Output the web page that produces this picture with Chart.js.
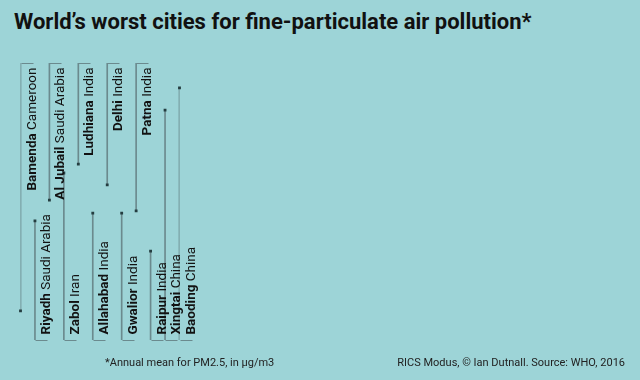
<!DOCTYPE html>
<html>
<head>
<meta charset="utf-8">
<script src="https://cdn.jsdelivr.net/npm/chart.js"></script>
<style>
  body { margin: 0; background: #9dd4d7; width: 640px; height: 380px; overflow: hidden; position: relative; }
  #title { position: absolute; left: 14px; top: 9px; font: bold 22px "Liberation Sans Narrow", "Roboto", sans-serif; color: #111; white-space: nowrap; }
  .note { position: absolute; top: 356px; font: 11px "Roboto", sans-serif; color: #222; white-space: nowrap; }
  #myChart { position: absolute; left: 0; top: 0; }
</style>
</head>
<body>
<div id="title">World’s worst cities for fine-particulate air pollution*</div>
<canvas id="myChart" width="640" height="380"></canvas>
<div class="note" style="left:105px">*Annual mean for PM2.5, in µg/m3</div>
<div class="note" style="right:15px">RICS Modus, © Ian Dutnall. Source: WHO, 2016</div>
<script>
let cities = ['Bamenda', 'Riyadh', 'Al Jubail', 'Zabol', 'Ludhiana', 'Allahabad', 'Delhi', 'Gwalior', 'Patna', 'Raipur', 'Xingtai', 'Baoding'];
let countries = ['Cameroon', 'Saudi Arabia', 'Saudi Arabia', 'Iran', 'India', 'India', 'India', 'India', 'India', 'India', 'China', 'China'];
// height of each dot, 0 = bottom of the stems, 100 = top
let dot_levels = [10.5, 43, 50.5, 60.3, 63.5, 45.8, 56, 45.8, 46.6, 32.1, 83, 91];
// these cities have their label hanging from the top, the rest sit at the bottom
let top_labelled = ['Bamenda', 'Al Jubail', 'Ludhiana', 'Delhi', 'Patna'];
let axis_min = 0;
let axis_max = 100;

let stem_colour = '#6b8a8e';
let dot_colour = '#243d40';
let label_size = 13.5;

let stems = [];
for(let i = 0; i < cities.length; i++){
  if(top_labelled.includes(cities[i])){
    stems.push([dot_levels[i], axis_max]);
  }
  else{
    stems.push([axis_min, dot_levels[i]]);
  }
}

// brackets and rotated labels
const labelPlugin = {
  id: 'cityLabels',
  afterDatasetsDraw (chart) {
    const ctx = chart.ctx;
    const xs = chart.scales.x;
    const ys = chart.scales.y;
    for(let i = 0; i < cities.length; i++){
      let x = Math.round(xs.getPixelForValue(i)) + 0.5;
      let on_top = top_labelled.includes(cities[i]);
      let y_end = Math.round(ys.getPixelForValue(on_top ? axis_max : axis_min)) + 0.5;

      ctx.save();
      ctx.strokeStyle = stem_colour;
      ctx.lineWidth = 1;
      ctx.beginPath();
      ctx.moveTo(x, y_end);
      ctx.lineTo(x + 12, y_end);
      ctx.stroke();

      ctx.translate(x + 14, on_top ? y_end + 4 : y_end - 6);
      ctx.rotate(-Math.PI / 2);
      ctx.fillStyle = '#121212';
      ctx.textBaseline = 'alphabetic';
      ctx.textAlign = 'left';
      ctx.font = 'bold ' + label_size + 'px Roboto';
      let wb = ctx.measureText(cities[i] + ' ').width;
      ctx.font = label_size + 'px Roboto';
      let wr = ctx.measureText(countries[i]).width;
      let start = on_top ? -(wb + wr) : 0;
      ctx.font = 'bold ' + label_size + 'px Roboto';
      ctx.fillText(cities[i], start, 0);
      ctx.font = label_size + 'px Roboto';
      ctx.fillText(countries[i], start + wb, 0);
      ctx.restore();
    }
  }
};

let myChart = new Chart(document.getElementById('myChart'), {
  type: 'bar',
  data: {
    labels: cities,
    datasets: [
      {
        type: 'line',
        data: dot_levels,
        showLine: false,
        pointStyle: 'rect',
        pointRadius: 2,
        pointBackgroundColor: dot_colour,
        pointBorderWidth: 0,
        order: 0
      },
      {
        data: stems,
        backgroundColor: stem_colour,
        barThickness: 1,
        borderWidth: 0,
        order: 1
      }
    ]
  },
  options: {
    responsive: false,
    animation: false,
    devicePixelRatio: 1,
    layout: { padding: { left: 20.5, right: 460.5, top: 63, bottom: 40 } },
    plugins: {
      legend: { display: false },
      tooltip: { enabled: false }
    },
    scales: {
      x: { display: false, offset: false, grid: { offset: false } },
      y: { display: false, min: axis_min, max: axis_max }
    }
  },
  plugins: [labelPlugin]
});
</script>
</body>
</html>
